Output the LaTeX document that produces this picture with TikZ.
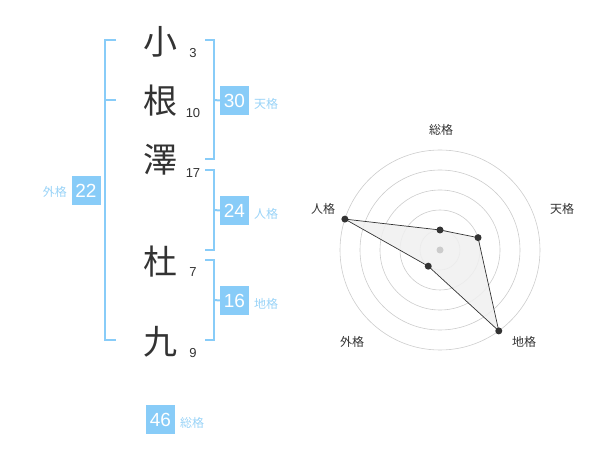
\documentclass[tikz,border=0pt]{standalone}
\usepackage{fontspec}
\usetikzlibrary{calc}
\setmainfont{Liberation Sans}
\newfontfamily\cjk{Noto Sans CJK JP}
\definecolor{bbox}{HTML}{88CCF8}
\definecolor{bline}{HTML}{88CCF8}
\definecolor{btext}{HTML}{99D3F7}
\definecolor{dark}{HTML}{333333}
\definecolor{ring}{HTML}{CCCCCC}
\definecolor{polyfill}{HTML}{F0F0F0}
\begin{document}
\begin{tikzpicture}[x=1pt,y=-1pt,
  kanji/.style={font=\cjk\fontsize{34}{34}\selectfont, text=dark, inner sep=0pt},
  strokes/.style={font=\fontsize{13}{13}\selectfont, text=dark, inner sep=0pt},
  numbox/.style={fill=bbox, text=white, minimum width=29pt, minimum height=29pt, inner sep=0pt, font=\fontsize{19}{19}\selectfont},
  kaku/.style={font=\cjk\fontsize{12}{12}\selectfont, text=btext, inner sep=0pt},
  brk/.style={draw=bline, line width=2pt},
  rlabel/.style={font=\cjk\fontsize{12}{12}\selectfont, text=dark, inner sep=0pt},
  rdot/.style={circle, fill=dark, minimum size=7pt, inner sep=0pt},
]
\useasboundingbox (0,0) rectangle (600,470);
% kanji
\node[kanji] (k1) at (160,42) {小};
\node[kanji] (k2) at (160,101) {根};
\node[kanji] (k3) at (160,160) {澤};
\node[kanji] (k4) at (160,262) {杜};
\node[kanji] (k5) at (160,342) {九};
% stroke counts
\node[strokes] (s1) at (193,53) {3};
\node[strokes] (s2) at (193,113) {10};
\node[strokes] (s3) at (193,173) {17};
\node[strokes] (s4) at (193,272) {7};
\node[strokes] (s5) at (193,353) {9};
% left bracket (gaikaku)
\coordinate (la) at (116,40);
\coordinate (lb) at (105,40);
\coordinate (lc) at (105,340);
\coordinate (ld) at (116,340);
\coordinate (lm1) at (105,100);
\coordinate (lm2) at (116,100);
\draw[brk] (la) -- (lb) -- (lc) -- (ld);
\draw[brk] (lm1) -- (lm2);
\node[numbox] (gai) at (86,191) {22};
\node[kaku, anchor=east] (gail) at (67,192) {外格};
% tenkaku bracket
\coordinate (ta) at (205,40);
\coordinate (tb) at (214,40);
\coordinate (tc) at (214,159);
\coordinate (td) at (205,159);
\coordinate (tm) at (214,100);
\draw[brk] (ta) -- (tb) -- (tc) -- (td);
\node[numbox] (ten) at (234.5,100.5) {30};
\draw[brk] (tm) -- (ten.west);
\node[kaku, anchor=west] (tenl) at (254,104) {天格};
% jinkaku bracket
\coordinate (ja) at (205,170);
\coordinate (jb) at (214,170);
\coordinate (jc) at (214,250);
\coordinate (jd) at (205,250);
\coordinate (jm) at (214,210);
\draw[brk] (ja) -- (jb) -- (jc) -- (jd);
\node[numbox] (jin) at (234.5,210.5) {24};
\draw[brk] (jm) -- (jin.west);
\node[kaku, anchor=west] (jinl) at (254,214) {人格};
% chikaku bracket
\coordinate (ca) at (205,260);
\coordinate (cb) at (214,260);
\coordinate (cc) at (214,340);
\coordinate (cd) at (205,340);
\coordinate (cm) at (214,300);
\draw[brk] (ca) -- (cb) -- (cc) -- (cd);
\node[numbox] (chi) at (234.5,300.5) {16};
\draw[brk] (cm) -- (chi.west);
\node[kaku, anchor=west] (chil) at (254,304) {地格};
% soukaku
\node[numbox] (sou) at (160.5,419.5) {46};
\node[kaku, anchor=west] (soul) at (180,423) {総格};
% radar
\coordinate (O) at (440,250);
\foreach \r in {20,40,60,80,100} \draw[ring, line width=0.6pt] (O) circle[radius=\r];
\coordinate (p1) at ($(O)+(0,-20)$);
\coordinate (p2) at ($(O)+(38.04,-12.36)$);
\coordinate (p3) at ($(O)+(58.78,80.90)$);
\coordinate (p4) at ($(O)+(-11.76,16.18)$);
\coordinate (p5) at ($(O)+(-95.11,-30.90)$);
\filldraw[fill=polyfill, fill opacity=0.85, draw=dark, line width=0.7pt] (p1) -- (p2) -- (p3) -- (p4) -- (p5) -- cycle;
\node[circle, fill=ring, minimum size=7pt, inner sep=0pt] (ctr) at (O) {};
\foreach \i in {1,...,5} \node[rdot] (d\i) at (p\i) {};
\node[rlabel] (r1) at (441,130) {総格};
\node[rlabel] (r2) at (562,209) {天格};
\node[rlabel] (r3) at (524,342) {地格};
\node[rlabel] (r4) at (352,342) {外格};
\node[rlabel] (r5) at (323,209) {人格};
\end{tikzpicture}
\end{document}
